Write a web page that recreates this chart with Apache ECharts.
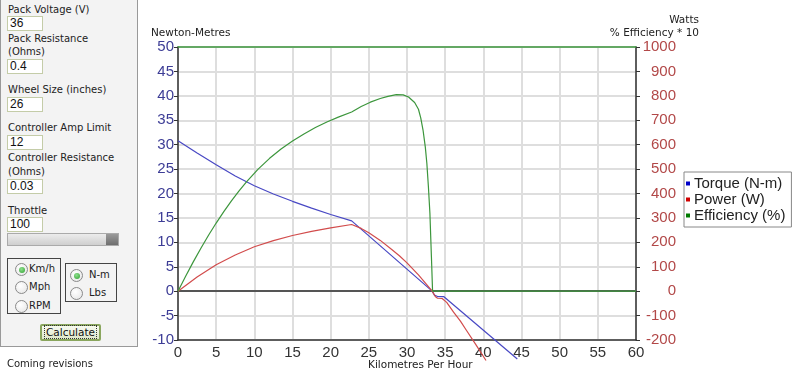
<!DOCTYPE html>
<html>
<head>
<meta charset="utf-8">
<script src="https://cdn.jsdelivr.net/npm/echarts@6/dist/echarts.min.js"></script>
<style>
  html, body { margin:0; padding:0; background:#fff; }
  #wrap { position:relative; width:806px; height:381px; overflow:hidden; }
  #chart { position:absolute; left:0; top:0; width:806px; height:381px; }
  #panel { position:absolute; left:0; top:-1px; width:136px; height:347px; background:#f3f3f3;
           border:1px solid #999; border-top:none; z-index:2; font-family:"DejaVu Sans",Verdana,sans-serif; font-size:10px; color:#222; }
  .lbl { position:absolute; left:7px; line-height:12px; white-space:nowrap; }
  .inp { position:absolute; left:6px; width:32px; height:13px; background:#fff; border:1px solid #c4cca8;
         font-family:"Liberation Sans",Arial,sans-serif; font-size:12px; line-height:13px; padding-left:2px; color:#111; }
  .box { position:absolute; border:1px solid #444; }
  .rad { position:absolute; width:11px; height:11px; border-radius:50%; border:1px solid #8a8a8a;
         background:radial-gradient(circle at 40% 35%, #ffffff, #e4e4e4); }
  .rad.on::after { content:""; position:absolute; left:2.5px; top:2.5px; width:6px; height:6px; border-radius:50%;
         background:radial-gradient(circle at 40% 35%, #8ee08e, #2fa02f); }
  .rtx { position:absolute; line-height:12px; white-space:nowrap; }
  #slider { position:absolute; left:6px; top:234px; width:110px; height:11px; border:1px solid #aaa;
            background:linear-gradient(#ececec,#cfcfcf); }
  #thumb { position:absolute; right:0px; top:0px; width:12px; height:11px; background:linear-gradient(#9a9a9a,#6e6e6e); }
  #calc { position:absolute; left:39px; top:325px; width:57px; height:13px; border:2px solid #8aa65e; border-radius:2px;
          background:linear-gradient(#f7faef,#dfe8cc); text-align:center; font-size:10.5px; line-height:13px; color:#111; }
  #calc span { border:1px dotted #333; padding:0 1px; }
  #coming { position:absolute; left:7px; top:358px; font-family:"DejaVu Sans",Verdana,sans-serif; font-size:10px; color:#222; z-index:2; }
</style>
</head>
<body>
<div id="wrap">
  <div id="chart"></div>
  <div id="panel">
    <div class="lbl" style="top:5px">Pack Voltage (V)</div>
    <div class="inp" style="top:17px">36</div>
    <div class="lbl" style="top:34px">Pack Resistance</div>
    <div class="lbl" style="top:47px">(Ohms)</div>
    <div class="inp" style="top:60px">0.4</div>
    <div class="lbl" style="top:85px">Wheel Size (inches)</div>
    <div class="inp" style="top:98px">26</div>
    <div class="lbl" style="top:123px">Controller Amp Limit</div>
    <div class="inp" style="top:136px">12</div>
    <div class="lbl" style="top:153px">Controller Resistance</div>
    <div class="lbl" style="top:167px">(Ohms)</div>
    <div class="inp" style="top:180px">0.03</div>
    <div class="lbl" style="top:206px">Throttle</div>
    <div class="inp" style="top:218px">100</div>
    <div id="slider"><div id="thumb"></div></div>
    <div class="box" style="left:6px;top:259px;width:52px;height:54px"></div>
    <div class="rad on" style="left:14px;top:264px"></div><div class="rtx" style="left:28px;top:264px">Km/h</div>
    <div class="rad" style="left:14px;top:282px"></div><div class="rtx" style="left:28px;top:282px">Mph</div>
    <div class="rad" style="left:14px;top:301px"></div><div class="rtx" style="left:28px;top:301px">RPM</div>
    <div class="box" style="left:64px;top:264px;width:50px;height:37px"></div>
    <div class="rad on" style="left:69px;top:270px"></div><div class="rtx" style="left:88px;top:270px">N-m</div>
    <div class="rad" style="left:69px;top:288px"></div><div class="rtx" style="left:88px;top:288px">Lbs</div>
    <div id="calc"><span>Calculate</span></div>
  </div>
  <div id="coming">Coming revisions</div>
</div>
<script>
// ---- data ----
const xTicks = [0, 5, 10, 15, 20, 25, 30, 35, 40, 45, 50, 55, 60];
const torqueSpeed = [0, 2.5, 5, 7.5, 10, 12.5, 15, 17.5, 20, 22.75, 33.3, 33.6, 34.0, 34.8, 44.45];
const torqueNm    = [30.8, 28.3, 25.9, 23.6, 21.6, 19.9, 18.4, 17.0, 15.7, 14.4, 0, -0.8, -1.1, -1.1, -13.9];

const powerSpeed = [0, 2.5, 5, 7.5, 10, 12.5, 15, 17.5, 20, 22.75, 24, 25, 26.5, 28, 29, 30, 31.5, 32.5, 33.3, 33.7, 34.0, 34.6, 35.2, 36.1, 37, 37.8, 39, 40.35];
const powerW     = [0, 58, 108, 148, 182, 207, 228, 245, 259, 273, 257, 239, 208, 171, 145, 116, 67, 30, 0, -22, -29, -30, -46, -86, -123, -161, -218, -284];

const effSpeed = [0, 1, 2, 3, 4, 5, 6, 7, 8, 9, 10.5, 12, 13.5, 15, 16.5, 18, 19.5, 21, 22.75, 24, 25.2, 26.5, 27.5, 28.6, 29.5, 30.2, 31, 31.5, 31.8, 32.1, 32.4, 32.6, 32.8, 33, 33.2, 33.35, 60];
const effPct   = [0, 6.1, 12.0, 17.6, 22.9, 27.9, 32.6, 37.0, 41.1, 44.9, 50.0, 54.4, 58.2, 61.5, 64.4, 67.0, 69.3, 71.3, 73.4, 75.6, 77.4, 78.9, 79.8, 80.5, 80.4, 79.5, 77.3, 74.5, 71, 66, 59, 52.4, 43, 32, 14, 0, 0];
const effScale = 10; // plotted as "% Efficiency * 10"

const pairs = (xs, ys, k) => xs.map((x, i) => [x, ys[i] * (k || 1)]);

const chart = echarts.init(document.getElementById('chart'), null, { renderer: 'canvas' });
const tickFont = "'Liberation Sans Narrow','Liberation Sans',Arial,sans-serif";
const nameFont = "'DejaVu Sans',Verdana,sans-serif";

chart.setOption({
  animation: false,
  backgroundColor: '#ffffff',
  grid: { left: 178, right: 170, top: 47, bottom: 41, containLabel: false },
  xAxis: [{
    type: 'value', min: 0, max: 60, interval: 5, position: 'bottom',
    axisLine: { show: true, onZero: false, lineStyle: { color: '#333', width: 1.5 } },
    axisTick: { show: false },
    axisLabel: { color: '#333', fontFamily: tickFont, fontSize: 15, margin: 5, formatter: v => String(v) },
    splitLine: { show: true, lineStyle: { color: '#dedede', width: 2 } }
  }, {
    type: 'value', min: 0, max: 60, interval: 5, position: 'top',
    axisLine: { show: true, onZero: false, lineStyle: { color: '#3c963c', width: 1.5 } },
    axisTick: { show: false }, axisLabel: { show: false }, splitLine: { show: false }
  }],
  yAxis: [{
    type: 'value', min: -10, max: 50, interval: 5, position: 'left',
    axisLine: { show: true, onZero: false, lineStyle: { color: '#333', width: 1.5 } },
    axisTick: { show: true, length: 4, lineStyle: { color: '#333' } },
    axisLabel: { color: '#3d3d96', fontFamily: tickFont, fontSize: 15, margin: 4, formatter: v => String(v) },
    splitLine: { show: true, lineStyle: { color: '#dedede', width: 2 } }
  }, {
    type: 'value', min: -200, max: 1000, interval: 100, position: 'right',
    axisLine: { show: true, onZero: false, lineStyle: { color: '#333', width: 1.5 } },
    axisTick: { show: true, length: 4, lineStyle: { color: '#333' } },
    axisLabel: { color: '#b24848', fontFamily: tickFont, fontSize: 15, margin: 40, align: 'right', formatter: v => String(v) },
    splitLine: { show: false }
  }],
  legend: {
    orient: 'vertical', left: 684, top: 172,
    padding: [4, 6, 4, 2], itemGap: 1, itemWidth: 4, itemHeight: 4, icon: 'rect',
    borderColor: '#888', borderWidth: 1, backgroundColor: '#fff',
    textStyle: { color: '#222', fontFamily: "'Liberation Sans',Arial,sans-serif", fontSize: 15, lineHeight: 14, padding: [0, 0, 0, -1] },
    data: [
      { name: 'Torque (N-m)', itemStyle: { color: '#0000c8' } },
      { name: 'Power (W)', itemStyle: { color: '#d00000' } },
      { name: 'Efficiency (%)', itemStyle: { color: '#007a00' } }
    ]
  },
  graphic: [
    { type: 'text', left: 151, top: 28, style: { text: 'Newton-Metres', font: '10.5px ' + nameFont, fill: '#222' } },
    { type: 'text', right: 107, top: 15, style: { text: 'Watts', font: '10.5px ' + nameFont, fill: '#222' } },
    { type: 'text', right: 107, top: 28, style: { text: '% Efficiency * 10', font: '10.5px ' + nameFont, fill: '#222' } },
    { type: 'text', left: 368, top: 360, style: { text: 'Kilometres Per Hour', font: '10.5px ' + nameFont, fill: '#222' } }
  ],
  series: [{
    name: 'Torque (N-m)', type: 'line', xAxisIndex: 0, yAxisIndex: 0, clip: false, z: 3,
    data: pairs(torqueSpeed, torqueNm), showSymbol: false, symbol: 'none',
    lineStyle: { color: '#4848c4', width: 1.2 }, itemStyle: { color: '#0000c8' },
    markLine: { silent: true, symbol: 'none', label: { show: false }, z: 1,
      lineStyle: { color: '#555', width: 2, type: 'solid' }, data: [{ yAxis: 0 }] }
  }, {
    name: 'Power (W)', type: 'line', xAxisIndex: 0, yAxisIndex: 1, clip: false, z: 3,
    data: pairs(powerSpeed, powerW), showSymbol: false, symbol: 'none',
    lineStyle: { color: '#d24c4c', width: 1.2 }, itemStyle: { color: '#d00000' }
  }, {
    name: 'Efficiency (%)', type: 'line', xAxisIndex: 0, yAxisIndex: 1, clip: false, z: 4,
    data: pairs(effSpeed, effPct, effScale), showSymbol: false, symbol: 'none',
    lineStyle: { color: '#3c963c', width: 1.2 }, itemStyle: { color: '#007a00' }
  }]
});
</script>
</body>
</html>
